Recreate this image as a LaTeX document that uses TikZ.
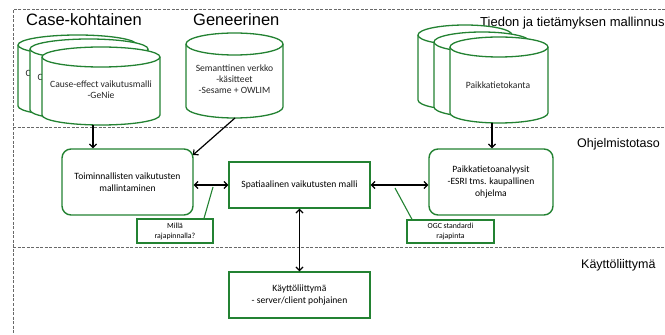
\documentclass[tikz,border=0pt]{standalone}
\usepackage{fontspec}
\setmainfont{Carlito}
\newfontfamily\arialf{Liberation Sans}
\usetikzlibrary{arrows.meta}
\definecolor{boxgreen}{RGB}{35,130,50}
\definecolor{dashgray}{RGB}{105,105,105}
\newcommand\drawcyl[5]{%
  \pgfmathsetmacro\cylxa{#1}%
  \pgfmathsetmacro\cylxb{#2}%
  \pgfmathsetmacro\cylrx{(#2-#1)/2}%
  \pgfmathsetmacro\cylyt{335-#3-#5}%
  \pgfmathsetmacro\cylyb{335-#4+#5}%
  \filldraw[cylsty] (\cylxa,\cylyt) -- (\cylxa,\cylyb)
    arc[start angle=180,end angle=360,x radius=\cylrx pt,y radius=#5pt]
    -- (\cylxb,\cylyt)
    arc[start angle=0,end angle=180,x radius=\cylrx pt,y radius=#5pt] -- cycle;
  \draw[cylsty,fill=none] (\cylxa,\cylyt)
    arc[start angle=180,end angle=360,x radius=\cylrx pt,y radius=#5pt];
}
\begin{document}
\begin{tikzpicture}[x=1pt,y=1pt,
  cylsty/.style={draw=boxgreen,line width=1.3pt,fill=white},
  rbox/.style={draw=boxgreen,line width=1.4pt,fill=white,rounded corners=9pt,align=center,font=\fontsize{9.6}{12}\selectfont,inner sep=0pt},
  sbox/.style={draw=boxgreen,line width=1.4pt,fill=white,align=center,font=\fontsize{9.6}{12}\selectfont,inner sep=0pt},
  note/.style={draw=boxgreen,line width=1.3pt,fill=white,align=center,font=\fontsize{7.8}{10}\selectfont,inner sep=0pt},
  ctext/.style={align=center,font=\fontsize{9.6}{11}\selectfont,text=black!85},
  sep/.style={draw=dashgray,line width=1pt,dash pattern=on 3pt off 1.5pt},
  arr/.style={line width=1.2pt,-{Straight Barb[length=3.5pt,width=7pt]}},
  darr/.style={line width=1.2pt,{Straight Barb[length=3.5pt,width=7pt]}-{Straight Barb[length=3.5pt,width=7pt]}},
  callout/.style={draw=boxgreen,line width=1.1pt},
  head/.style={font=\arialf\fontsize{16.5}{20}\selectfont,anchor=base west,inner sep=0pt},
  lvl/.style={font=\arialf\fontsize{12.5}{15}\selectfont,anchor=base west,inner sep=0pt}]
\useasboundingbox (0,0) rectangle (665,335);

% separators
\draw[sep] (665,325) -- (13,325) -- (13,0);
\draw[sep] (13,207) -- (665,207);
\draw[sep] (13,87) -- (665,87);

% headings
\node[head] (hcase) at (26,309) {Case-kohtainen};
\node[head] (hgen) at (193,309) {Geneerinen};
\node[lvl,font=\arialf\fontsize{13}{15}\selectfont] (hmod) at (480,308) {Tiedon ja tietämyksen mallinnus};
\node[lvl] (hohj) at (577,187) {Ohjelmistotaso};
\node[lvl] (hkay) at (581,66) {Käyttöliittymä};

% case-specific cylinders (back ones show only the first letter of their label)
\drawcyl{18}{137}{35}{116}{10}
\node[ctext,anchor=base west,inner sep=0pt] (case3) at (25.5,258) {C};
\drawcyl{30}{148}{39}{120}{10}
\node[ctext,anchor=base west,inner sep=0pt] (case2) at (37.5,254) {C};
\drawcyl{42}{160}{47}{125}{10}
\node[ctext] (case1) at (101,245) {Cause-effect vaikutusmalli\\-GeNie};

% generic cylinder
\drawcyl{186}{283}{33}{118}{11}
\node[ctext] (gen) at (234.5,256) {Semanttinen verkko\\-käsitteet\\-Sesame + OWLIM};

% spatial database cylinders
\drawcyl{418}{512}{25}{110}{10}
\drawcyl{434}{530}{32}{117}{10}
\drawcyl{450}{548}{37}{123}{10}
\node[ctext] (pk) at (498,250) {Paikkatietokanta};

% software level boxes
\node[rbox,minimum width=131pt,minimum height=66pt] (toim) at (127.5,153) {Toiminnallisten vaikutusten\\mallintaminen};
\node[sbox,minimum width=141pt,minimum height=46pt] (spat) at (299.5,150) {Spatiaalinen vaikutusten malli};
\node[rbox,minimum width=124pt,minimum height=66pt] (paa) at (491,153) {Paikkatietoanalyysit\\-ESRI tms. kaupallinen\\ohjelma};
\node[note,minimum width=76pt,minimum height=24pt] (milla) at (175,104) {Millä\\rajapinnalla?};
\node[note,minimum width=87pt,minimum height=23pt] (ogc) at (450.5,103.5) {OGC standardi\\rajapinta};

% user interface
\node[sbox,minimum width=141pt,minimum height=46pt] (kayt) at (299.5,40) {Käyttöliittymä\\- server/client pohjainen};

% connector endpoints
\coordinate (caseout) at (93,210);
\coordinate (genout) at (235,217);
\coordinate (genin) at (193,180);
\coordinate (pkout) at (492,212);
\coordinate (mtip) at (213,148);
\coordinate (otip) at (395,147);

% arrows
\draw[arr] (caseout) -- (caseout |- toim.north);
\draw[arr] (genout) -- (genin);
\draw[arr] (pkout) -- (pkout |- paa.north);
\draw[darr] (toim.east |- spat.west) -- (spat.west);
\draw[darr] (spat.east) -- (paa.west |- spat.east);
\draw[darr] (spat.south) -- (kayt.north);

% callouts
\draw[callout] ([xshift=29pt]milla.north) -- (mtip);
\draw[callout] ([xshift=-38.5pt]ogc.north) -- (otip);
\end{tikzpicture}
\end{document}
